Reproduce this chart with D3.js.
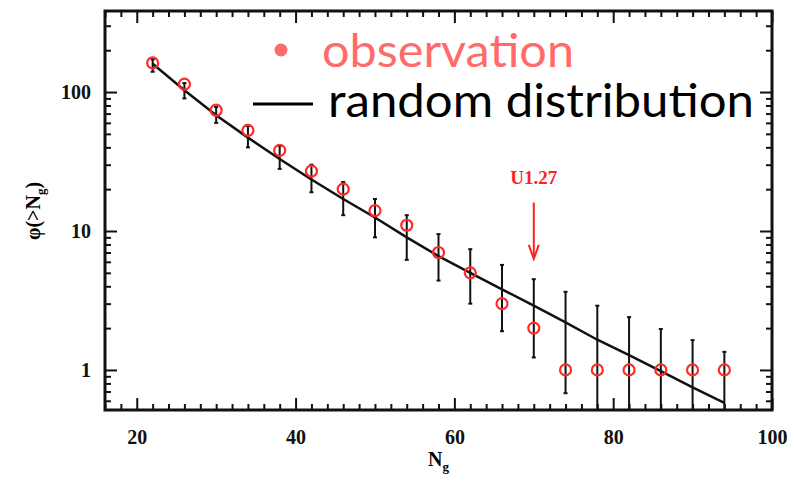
<!DOCTYPE html>
<html>
<head>
<meta charset="utf-8">
<script src="https://cdn.jsdelivr.net/npm/d3@7"></script>
<style>
  body { margin: 0; background: #fff; }
  .tick text { font-family: "Liberation Serif", serif; font-weight: bold; font-size: 20px; fill: #111; }
  .legend { font-family: Lato, "Open Sans", sans-serif; }
</style>
</head>
<body>
<script>
// ---------------------- DATA ----------------------

const ngValues   = [22, 26, 30, 34, 38, 42, 46, 50, 54, 58, 62, 66, 70, 74, 78, 82, 86, 90, 94];
const observed   = [162, 114, 74, 53, 38, 27, 20, 14, 11, 7, 5, 3, 2, 1, 1, 1, 1, 1, 1];
const randomDist = [160, 103, 68, 47, 33, 23.5, 17, 12.5, 9, 6.6, 5, 3.8, 2.9, 2.2, 1.65, 1.28, 0.98, 0.75, 0.58];
const errLow     = [140, 90, 60, 40, 28, 19, 13, 9, 6.2, 4.4, 3.0, 1.9, 1.23, 0.68, 0.1, 0.1, 0.1, 0.1, 0.1];
const errHigh    = [172, 116, 78, 57, 41, 30, 22.5, 17, 13, 9.5, 7.4, 5.7, 4.5, 3.65, 2.9, 2.4, 1.97, 1.64, 1.35];

const xMajorTicks = [20, 40, 60, 80, 100];
const yMajorTicks = [1, 10, 100];

const annotation = { label: "U1.27", ng: 70, from: 16, to: 6.3 };

// ---------------------- SETUP ----------------------

const width = 794, height = 484;
const plotLeft = 105, plotRight = 772, plotTop = 11, plotBottom = 410;

const svg = d3.select("body").append("svg")
    .attr("width", width)
    .attr("height", height);

const x = d3.scaleLinear().domain([16, 100]).range([plotLeft, plotRight]);
const y = d3.scaleLog().domain([0.515, 383]).range([plotBottom, plotTop]);

const xMinor = d3.range(16, 101, 2).filter(v => v % 20 !== 0);
const yMinor = [];
[0.1, 1, 10, 100].forEach(d => d3.range(2, 10).forEach(m => {
    const v = d * m;
    if (v > 0.515 && v < 383) yMinor.push(v);
}));

function styleAxis(g) {
    g.select(".domain").remove();
    g.selectAll(".tick line").attr("stroke", "#111").attr("stroke-width", 2);
}

// ---------------------- AXES ----------------------

svg.append("g").attr("transform", `translate(0,${plotBottom})`)
    .call(d3.axisBottom(x).tickValues(xMajorTicks).tickSize(-12).tickPadding(20).tickFormat(d3.format("d")))
    .call(styleAxis);
svg.append("g").attr("transform", `translate(0,${plotBottom})`)
    .call(d3.axisBottom(x).tickValues(xMinor).tickSize(-6).tickFormat(""))
    .call(styleAxis);
svg.append("g").attr("transform", `translate(0,${plotTop})`)
    .call(d3.axisTop(x).tickValues(xMajorTicks).tickSize(-12).tickFormat(""))
    .call(styleAxis);
svg.append("g").attr("transform", `translate(0,${plotTop})`)
    .call(d3.axisTop(x).tickValues(xMinor).tickSize(-6).tickFormat(""))
    .call(styleAxis);

svg.append("g").attr("transform", `translate(${plotLeft},0)`)
    .call(d3.axisLeft(y).tickValues(yMajorTicks).tickSize(-12).tickPadding(14).tickFormat(d3.format("d")))
    .call(styleAxis);
svg.append("g").attr("transform", `translate(${plotLeft},0)`)
    .call(d3.axisLeft(y).tickValues(yMinor).tickSize(-6).tickFormat(""))
    .call(styleAxis);
svg.append("g").attr("transform", `translate(${plotRight},0)`)
    .call(d3.axisRight(y).tickValues(yMajorTicks).tickSize(-12).tickFormat(""))
    .call(styleAxis);
svg.append("g").attr("transform", `translate(${plotRight},0)`)
    .call(d3.axisRight(y).tickValues(yMinor).tickSize(-6).tickFormat(""))
    .call(styleAxis);

// frame
svg.append("rect")
    .attr("x", plotLeft).attr("y", plotTop)
    .attr("width", plotRight - plotLeft).attr("height", plotBottom - plotTop)
    .attr("fill", "none").attr("stroke", "#111").attr("stroke-width", 3);

// axis titles
const xt = svg.append("text")
    .attr("x", x(58)).attr("y", 466)
    .attr("text-anchor", "middle")
    .style("font-family", "Liberation Serif, serif").style("font-weight", "bold").style("font-size", "20px");
xt.append("tspan").text("N");
xt.append("tspan").attr("dy", 5).style("font-size", "13px").text("g");

const yt = svg.append("text")
    .attr("transform", `translate(40,${(y(100) + y(1)) / 2 - 20}) rotate(-90)`)
    .attr("text-anchor", "middle")
    .style("font-family", "Liberation Serif, serif").style("font-weight", "bold").style("font-size", "20px");
yt.append("tspan").text("φ(>N");
yt.append("tspan").attr("dy", 5).style("font-size", "13px").text("g");
yt.append("tspan").attr("dy", -5).text(")");

// ---------------------- MARKS ----------------------

svg.append("defs").append("clipPath").attr("id", "plot-clip")
    .append("rect")
    .attr("x", plotLeft).attr("y", plotTop)
    .attr("width", plotRight - plotLeft).attr("height", plotBottom - plotTop);

const plot = svg.append("g").attr("clip-path", "url(#plot-clip)");

const rows = ngValues.map((ng, i) => ({
    ng, obs: observed[i], model: randomDist[i], lo: errLow[i], hi: errHigh[i]
}));

// error bars
plot.selectAll(".err")
    .data(rows)
    .enter().append("line")
    .attr("class", "err")
    .attr("x1", d => x(d.ng)).attr("x2", d => x(d.ng))
    .attr("y1", d => y(d.lo)).attr("y2", d => y(d.hi))
    .attr("stroke", "#111").attr("stroke-width", 2);

plot.selectAll(".cap")
    .data(rows.flatMap(d => [{ ng: d.ng, v: d.lo }, { ng: d.ng, v: d.hi }]))
    .enter().append("line")
    .attr("class", "cap")
    .attr("x1", d => x(d.ng) - 2).attr("x2", d => x(d.ng) + 2)
    .attr("y1", d => y(d.v)).attr("y2", d => y(d.v))
    .attr("stroke", "#111").attr("stroke-width", 2);

// random distribution line
plot.append("path")
    .datum(rows)
    .attr("fill", "none")
    .attr("stroke", "#111")
    .attr("stroke-width", 2.5)
    .attr("d", d3.line().x(d => x(d.ng)).y(d => y(d.model)));

// observations
plot.selectAll(".obs")
    .data(rows)
    .enter().append("circle")
    .attr("class", "obs")
    .attr("cx", d => x(d.ng)).attr("cy", d => y(d.obs))
    .attr("r", 5.5)
    .attr("fill", "none")
    .attr("stroke", "#ff2a2a")
    .attr("stroke-width", 2.2);

// annotation arrow
const ax = x(annotation.ng);
svg.append("text")
    .attr("x", ax).attr("y", 184)
    .attr("text-anchor", "middle")
    .style("font-family", "Liberation Serif, serif").style("font-weight", "bold").style("font-size", "19px")
    .attr("fill", "#ff2020")
    .text(annotation.label);
svg.append("line")
    .attr("x1", ax).attr("x2", ax)
    .attr("y1", y(annotation.from)).attr("y2", y(annotation.to) - 2)
    .attr("stroke", "#ff2020").attr("stroke-width", 2);
svg.append("path")
    .attr("d", `M${ax - 5},${y(annotation.to) - 14} L${ax},${y(annotation.to)} L${ax + 5},${y(annotation.to) - 14}`)
    .attr("fill", "none").attr("stroke", "#ff2020").attr("stroke-width", 2);

// ---------------------- LEGEND ----------------------

const legend = svg.append("g").attr("class", "legend");
legend.append("circle").attr("cx", 281).attr("cy", 50).attr("r", 6.5).attr("fill", "#ff6a6a");
legend.append("text")
    .attr("x", 322).attr("y", 67)
    .attr("textLength", 252).attr("lengthAdjust", "spacingAndGlyphs")
    .style("font-size", "46px").attr("fill", "#ff6a6a")
    .text("observation");
legend.append("line")
    .attr("x1", 253).attr("x2", 313).attr("y1", 104).attr("y2", 104)
    .attr("stroke", "#000").attr("stroke-width", 3);
legend.append("text")
    .attr("x", 328).attr("y", 117)
    .attr("textLength", 426).attr("lengthAdjust", "spacingAndGlyphs")
    .style("font-size", "46px").attr("fill", "#000")
    .text("random distribution");
</script>
</body>
</html>
